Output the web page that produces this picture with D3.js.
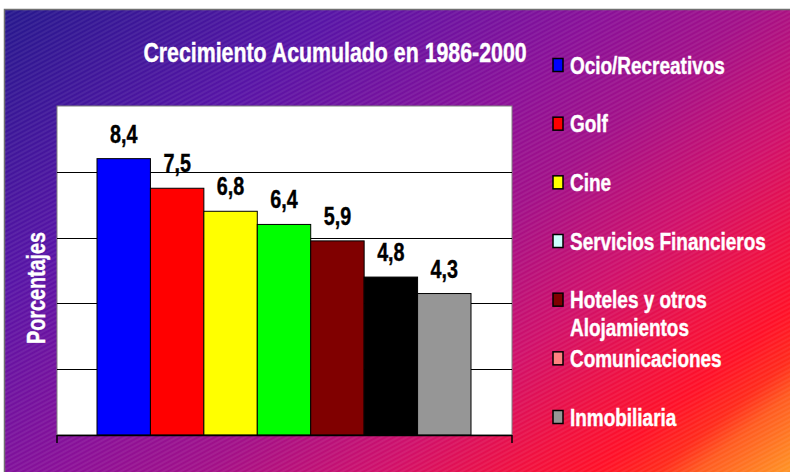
<!DOCTYPE html>
<html>
<head>
<meta charset="utf-8">
<script src="https://cdn.jsdelivr.net/npm/d3@7"></script>
<style>
  body { margin: 0; background: #fff; }
  text { font-family: "Liberation Sans", Arial, sans-serif; font-weight: bold; }
</style>
</head>
<body>
<svg width="790" height="472"></svg>
<script>
var categories = ["Ocio/Recreativos", "Golf", "Cine", "Servicios Financieros",
                  "Hoteles y otros Alojamientos", "Comunicaciones", "Inmobiliaria"];
var values = [8.4, 7.5, 6.8, 6.4, 5.9, 4.8, 4.3];
var barColors = ["#0000ff", "#ff0000", "#ffff00", "#00ff00", "#800000", "#000000", "#969696"];
var legendColors = ["#0000ff", "#ff0000", "#ffff00", "#ccffff", "#800000", "#ff8080", "#969696"];
var yTicks = [0, 2, 4, 6, 8, 10];
var title = "Crecimiento Acumulado en 1986-2000";
var yTitle = "Porcentajes";

var svg = d3.select("svg"),
    width = +svg.attr("width"),
    height = +svg.attr("height");

var narrow = 0.79;   // squeeze Liberation Sans to look like a narrow face

var defs = svg.append("defs");

// background gradient, blue top-left to orange bottom-right
var grad = defs.append("linearGradient")
    .attr("id", "bg")
    .attr("gradientUnits", "userSpaceOnUse")
    .attr("x1", 0).attr("y1", 0)
    .attr("x2", 556).attr("y2", 663);
[[0, "#24188c"], [0.26, "#5814a6"], [0.46, "#8a1098"], [0.57, "#a21088"],
 [0.7, "#d0106a"], [0.8, "#f01040"], [0.86, "#ff1028"], [0.905, "#ff2a1c"], [0.935, "#ff5a20"], [1, "#ff9024"]]
  .forEach(function(s) {
    grad.append("stop").attr("offset", s[0]).attr("stop-color", s[1]);
  });

// thin diagonal hatching
var pat = defs.append("pattern")
    .attr("id", "hatch")
    .attr("patternUnits", "userSpaceOnUse")
    .attr("width", 4).attr("height", 4)
    .attr("patternTransform", "rotate(-28)");
pat.append("line")
    .attr("x1", 0).attr("y1", 1).attr("x2", 4).attr("y2", 1)
    .style("stroke", "#ffffff")
    .style("stroke-opacity", 0.13)
    .style("stroke-width", 1);

svg.append("rect")
    .attr("x", 4.5).attr("y", 9.5)
    .attr("width", 800).attr("height", 500)
    .attr("fill", "url(#bg)")
    .style("stroke", "#707070")
    .style("stroke-width", 1.5);
svg.append("rect")
    .attr("x", 5).attr("y", 10)
    .attr("width", 800).attr("height", 500)
    .attr("fill", "url(#hatch)");

// plot area
var plot = { left: 57, right: 512, top: 106, bottom: 435 };

var x = d3.scaleBand()
    .domain(categories)
    .range([97, 471])
    .padding(0);

var y = d3.scaleLinear()
    .domain([0, 10])
    .range([plot.bottom, plot.top]);

svg.append("rect")
    .attr("x", plot.left).attr("y", plot.top)
    .attr("width", plot.right - plot.left)
    .attr("height", plot.bottom - plot.top)
    .attr("fill", "#ffffff")
    .style("stroke", "#808080")
    .style("stroke-width", 1);

svg.append("g")
    .selectAll("line")
    .data(yTicks.filter(function(d) { return d > 0 && d < 10; }))
    .enter()
    .append("line")
    .attr("x1", plot.left).attr("x2", plot.right)
    .attr("y1", function(d) { return Math.round(y(d)) + 0.5; })
    .attr("y2", function(d) { return Math.round(y(d)) + 0.5; })
    .style("stroke", "#000")
    .style("stroke-width", 1);

svg.append("g")
    .selectAll("rect")
    .data(values)
    .enter()
    .append("rect")
    .attr("x", function(d, i) { return x(categories[i]); })
    .attr("y", function(d) { return y(d); })
    .attr("width", x.bandwidth())
    .attr("height", function(d) { return y(0) - y(d); })
    .style("fill", function(d, i) { return barColors[i]; })
    .style("stroke", "#000")
    .style("stroke-width", 1);

// bottom axis with ticks at both ends
var xAxis = d3.scaleLinear().domain([0, 1]).range([plot.left, plot.right]);
svg.append("line")
    .attr("x1", plot.left).attr("x2", plot.right)
    .attr("y1", plot.bottom + 0.5).attr("y2", plot.bottom + 0.5)
    .style("stroke", "#000").style("stroke-width", 1.5);
svg.append("g")
    .selectAll("line")
    .data([0, 1])
    .enter()
    .append("line")
    .attr("x1", function(d) { return xAxis(d); })
    .attr("x2", function(d) { return xAxis(d); })
    .attr("y1", plot.bottom)
    .attr("y2", plot.bottom + 8)
    .style("stroke", "#000").style("stroke-width", 1.5);

// value labels
var fmt = d3.formatLocale({ decimal: ",", thousands: ".", grouping: [3], currency: ["", ""] }).format(".1f");
svg.append("g")
    .selectAll("text")
    .data(values)
    .enter()
    .append("text")
    .attr("transform", function(d, i) {
        return "translate(" + (x(categories[i]) + x.bandwidth() / 2) + "," + (y(d) - 16) + ") scale(" + narrow + ",1)";
    })
    .attr("text-anchor", "middle")
    .style("font-size", "25px")
    .style("fill", "#000")
    .style("stroke", "#000")
    .style("stroke-width", 0.4)
    .text(function(d) { return fmt(d); });

// title
svg.append("text")
    .attr("transform", "translate(335,62) scale(" + narrow + ",1)")
    .attr("text-anchor", "middle")
    .style("font-size", "27px")
    .style("fill", "#fff")
    .style("stroke", "#fff")
    .style("stroke-width", 0.4)
    .text(title);

svg.append("text")
    .attr("transform", "translate(45,288) rotate(-90) scale(" + narrow + ",1)")
    .attr("text-anchor", "middle")
    .style("font-size", "25px")
    .style("fill", "#fff")
    .style("stroke", "#fff")
    .style("stroke-width", 0.4)
    .text(yTitle);

// legend
var ly = d3.scaleLinear().domain([0, categories.length - 1]).range([65, 417]);
var leg = svg.append("g").selectAll("g")
    .data(categories)
    .enter()
    .append("g")
    .attr("transform", function(d, i) { return "translate(553," + ly(i) + ")"; });

leg.append("rect")
    .attr("x", 0).attr("y", -6.5)
    .attr("width", 10).attr("height", 13)
    .style("fill", function(d, i) { return legendColors[i]; })
    .style("stroke", "#000")
    .style("stroke-width", 1.5);

leg.append("text")
    .attr("transform", "translate(17,8.5) scale(" + narrow + ",1)")
    .style("font-size", "24px")
    .style("fill", "#fff")
    .style("stroke", "#fff")
    .style("stroke-width", 0.4)
    .each(function(d) {
        var lines = d === "Hoteles y otros Alojamientos" ? ["Hoteles y otros", "Alojamientos"] : [d];
        var t = d3.select(this);
        lines.forEach(function(l, k) {
            t.append("tspan").attr("x", 0).attr("dy", k === 0 ? 0 : 28).text(l);
        });
    });
</script>
</body>
</html>
